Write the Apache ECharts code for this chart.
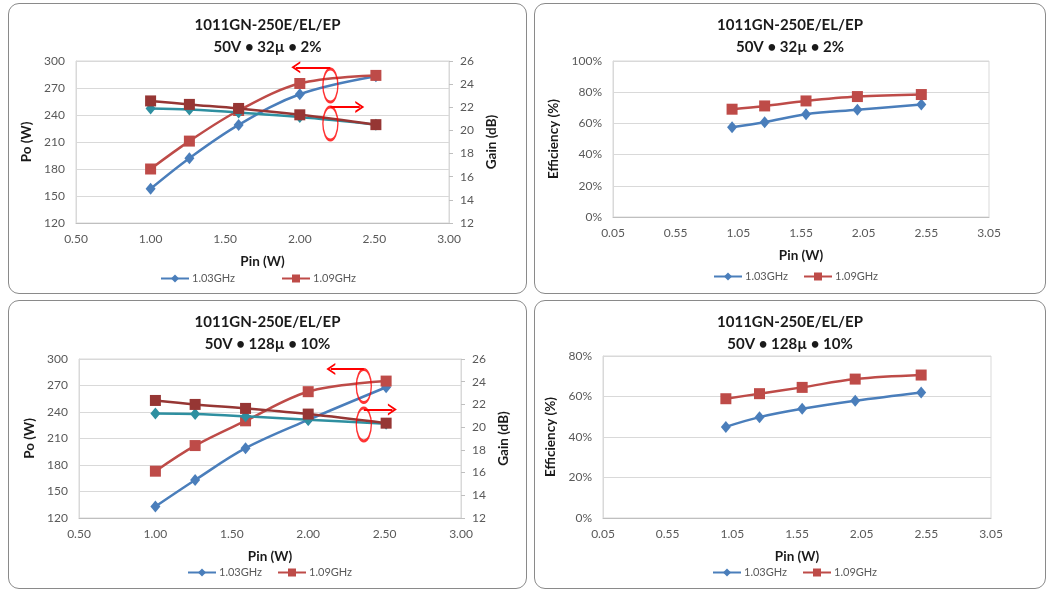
<!DOCTYPE html>
<html><head><meta charset="utf-8">
<script src="https://cdn.jsdelivr.net/npm/echarts@6/dist/echarts.min.js"></script>
<style>
html,body{margin:0;padding:0;background:#fff;width:1047px;height:592px;overflow:hidden;}
.chart{position:absolute;}
.frame{position:absolute;border:1.5px solid #8a8a8a;border-radius:11px;box-sizing:border-box;pointer-events:none;}
</style></head><body>
<div id="c1" class="chart" style="left:8px;top:3px;width:519px;height:291px"></div>
<div id="c2" class="chart" style="left:534px;top:3px;width:512px;height:291px"></div>
<div id="c3" class="chart" style="left:8px;top:300px;width:519px;height:289px"></div>
<div id="c4" class="chart" style="left:534px;top:300px;width:512px;height:289px"></div>
<div class="frame" style="left:8px;top:3px;width:519px;height:291px"></div>
<div class="frame" style="left:534px;top:3px;width:512px;height:291px"></div>
<div class="frame" style="left:8px;top:300px;width:519px;height:289px"></div>
<div class="frame" style="left:534px;top:300px;width:512px;height:289px"></div>
<script>
// ---------- data ----------
const titleLine1 = '1011GN-250E/EL/EP';
const subtitle32 = '50V • 32µ • 2%';
const subtitle128 = '50V • 128µ • 10%';
const seriesNames = ['1.03GHz', '1.09GHz'];

const pinX = [1.00, 1.26, 1.59, 2.00, 2.51];

const po32_103 = [158, 192, 229, 263, 283];
const po32_109 = [180, 211, 245, 275, 284];
const gain32_103 = [21.9, 21.8, 21.55, 21.15, 20.5];
const gain32_109 = [22.55, 22.25, 21.9, 21.35, 20.5];
const eff32_103 = [57.6, 60.8, 65.9, 68.7, 72.1];
const eff32_109 = [69.1, 71.2, 74.4, 77.2, 78.5];

const po128_103 = [133, 163, 199, 231, 268];
const po128_109 = [173, 202, 230, 263, 275];
const gain128_103 = [21.2, 21.15, 20.95, 20.65, 20.3];
const gain128_109 = [22.35, 22.0, 21.65, 21.15, 20.35];
const eff128_103 = [45.0, 49.8, 53.9, 57.9, 62.0];
const eff128_109 = [58.9, 61.4, 64.5, 68.6, 70.6];

const poTicks = {min: 120, max: 300, interval: 30};
const gainTicks = {min: 12, max: 26, interval: 2};
const pinTicksPo = {min: 0.5, max: 3.0, interval: 0.5};
const pinTicksEff = {min: 0.05, max: 3.05, interval: 0.5};
const effTicks32 = {min: 0, max: 100, interval: 20};
const effTicks128 = {min: 0, max: 80, interval: 20};

// annotation marks (data coordinates): ellipse centres and arrow [from, to]
const annot32 = {ellipses: [[2.205, 272.7], [2.205, 230.5]], arrows: [[[2.205, 293], [1.973, 293]], [[2.205, 249], [2.402, 249]]]};
const annot128 = {ellipses: [[2.364, 269.4], [2.364, 225.9]], arrows: [[[2.364, 288.7], [2.148, 288.7]], [[2.364, 242.9], [2.551, 242.9]]]};

// ---------- styling ----------
const FONT = 'Lato, "Open Sans", sans-serif';
const BLUE = '#4A7EBB', RED = '#BE4B48', TEAL = '#2E8FA0', DRED = '#963634';
const pairs = (xs, ys) => xs.map((x, i) => [x, ys[i]]);
const chevron = 'path://M0,10 L5,0 L10,10 L8.3,10 L5,3.6 L1.7,10 Z';

function titleOpt(sub) {
  return {text: titleLine1 + '\n' + sub, left: 'center', top: 11, padding: 0,
    textStyle: {fontFamily: FONT, fontSize: 15, fontWeight: 'bold', color: '#1a1a1a', lineHeight: 22}};
}
function legendOpt(left, top, gap) {
  return {data: seriesNames, left: left, top: top, padding: 0, itemGap: gap, itemWidth: 28, itemHeight: 10,
    textStyle: {fontFamily: FONT, fontSize: 11, color: '#595959', padding: [0, 0, 0, -2]}};
}
const nameStyle = {fontFamily: FONT, fontWeight: 'bold', fontSize: 13.5, color: '#1a1a1a'};
function xAxisOpt(t) {
  return Object.assign({type: 'value', name: 'Pin (W)', nameLocation: 'middle', nameGap: 32,
    nameTextStyle: nameStyle,
    axisLine: {show: true, lineStyle: {color: '#BFBFBF'}}, axisTick: {show: false}, splitLine: {show: false},
    axisLabel: {formatter: v => v.toFixed(2), color: '#595959', fontFamily: FONT, fontSize: 12, margin: 10, showMinLabel: true, showMaxLabel: true}}, t);
}
function yAxisOpt(t, name, pos, gap, fmt, ticks) {
  return Object.assign({type: 'value', position: pos, name: name, nameLocation: 'middle', nameGap: gap, nameRotate: 90,
    nameTextStyle: nameStyle,
    axisLine: {show: true, lineStyle: {color: '#D9D9D9'}},
    axisTick: {show: ticks, length: 4, lineStyle: {color: '#BFBFBF'}},
    splitLine: {show: pos === 'left', lineStyle: {color: '#D9D9D9', width: 1}},
    axisLabel: {formatter: fmt, color: '#595959', fontFamily: FONT, fontSize: 12, margin: 11}}, t);
}
function lineSeries(name, data, color, symbol, size, yIdx, z) {
  return {name: name, type: 'line', data: data, yAxisIndex: yIdx, smooth: 0.35, symbol: symbol, symbolSize: size,
    lineStyle: {color: color, width: 2.5}, itemStyle: {color: color}, z: z, animation: false};
}
function annotSeries(a) {
  return {name: 'annot', type: 'scatter', yAxisIndex: 0, data: a.ellipses, symbol: 'circle', symbolSize: [15, 33],
    itemStyle: {color: 'rgba(0,0,0,0)', borderColor: '#FF0000', borderWidth: 2}, silent: true, z: 10, animation: false,
    markLine: {silent: true, animation: false, symbol: ['none', chevron], symbolSize: [12, 9], label: {show: false},
      lineStyle: {color: '#FF0000', width: 2, type: 'solid'},
      data: a.arrows.map(ar => [{coord: ar[0]}, {coord: ar[1]}])}};
}

function poChart(el, sub, grid, legend, po103, po109, g103, g109, annot) {
  const c = echarts.init(document.getElementById(el));
  c.setOption({
    animation: false,
    title: titleOpt(sub),
    legend: legend,
    grid: Object.assign({show: true, borderColor: '#D9D9D9', borderWidth: 1}, grid),
    xAxis: xAxisOpt(pinTicksPo),
    yAxis: [yAxisOpt(poTicks, 'Po (W)', 'left', 40, v => v, false),
            yAxisOpt(gainTicks, 'Gain (dB)', 'right', 34, v => v, true)],
    series: [
      lineSeries(seriesNames[0], pairs(pinX, po103), BLUE, 'diamond', [10, 12], 0, 2),
      lineSeries(seriesNames[1], pairs(pinX, po109), RED, 'rect', 11, 0, 2),
      lineSeries('Gain ' + seriesNames[0], pairs(pinX, g103), TEAL, 'diamond', [10, 12], 1, 3),
      lineSeries('Gain ' + seriesNames[1], pairs(pinX, g109), DRED, 'rect', 11, 1, 4),
      annotSeries(annot)
    ]
  });
}
function effChart(el, sub, grid, legend, e103, e109, ticks) {
  const c = echarts.init(document.getElementById(el));
  c.setOption({
    animation: false,
    title: titleOpt(sub),
    legend: legend,
    grid: Object.assign({show: true, borderColor: '#D9D9D9', borderWidth: 1}, grid),
    xAxis: xAxisOpt(pinTicksEff),
    yAxis: yAxisOpt(ticks, 'Efficiency (%)', 'left', 44, v => v + '%', false),
    series: [
      lineSeries(seriesNames[0], pairs(pinX, e103), BLUE, 'diamond', [10, 12], 0, 2),
      lineSeries(seriesNames[1], pairs(pinX, e109), RED, 'rect', 11, 0, 3)
    ]
  });
}

poChart('c1', subtitle32, {left: 68, right: 78, top: 58, bottom: 71}, legendOpt(152, 270, 46),
  po32_103, po32_109, gain32_103, gain32_109, annot32);
effChart('c2', subtitle32, {left: 79, right: 57, top: 58, bottom: 77}, legendOpt(179, 268, 15),
  eff32_103, eff32_109, effTicks32);
poChart('c3', subtitle128, {left: 71, right: 66, top: 59, bottom: 71}, legendOpt(179, 267, 15),
  po128_103, po128_109, gain128_103, gain128_109, annot128);
effChart('c4', subtitle128, {left: 69, right: 55, top: 56, bottom: 71}, legendOpt(178, 267, 15),
  eff128_103, eff128_109, effTicks128);
</script>
</body></html>
